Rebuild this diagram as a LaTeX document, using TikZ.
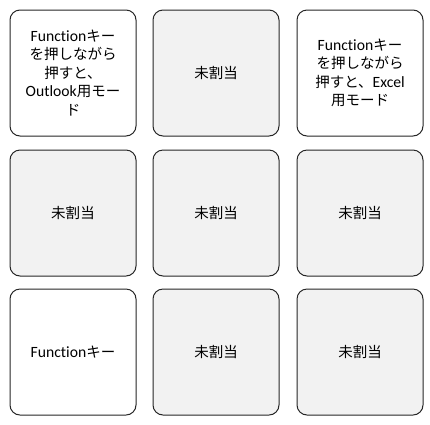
\documentclass[tikz,border=0pt]{standalone}
\usepackage{fontspec}
\setmainfont{Noto Sans CJK JP}[Scale=1.0]
\newfontfamily\lt{Carlito}[Scale=1.08,Ligatures={NoCommon,NoRequired,NoContextual}]
\definecolor{cellgray}{HTML}{F2F2F2}
\definecolor{edge}{HTML}{262626}
\tikzset{
  cell/.style={draw=edge, line width=1pt, rounded corners=10pt, minimum width=126pt, minimum height=126pt, align=center, font=\fontsize{14.5}{18.5}\selectfont, inner sep=2pt, text width=122pt},
  free/.style={cell, fill=cellgray},
  used/.style={cell, fill=white}
}
\begin{document}
\begin{tikzpicture}[x=1pt,y=-1pt]
\useasboundingbox (0,0) rectangle (430,424);
\node[used] (a1) at (73,73) {{\lt Function}キー\\を押しながら\\押すと、\\{\lt Outlook}用モー\\ド};
\node[free] (a2) at (216,73) {未割当};
\node[used] (a3) at (360,73) {{\lt Function}キー\\を押しながら\\押すと、{\lt Excel}\\用モード};
\node[free] (b1) at (73,213) {未割当};
\node[free] (b2) at (216,213) {未割当};
\node[free] (b3) at (360,213) {未割当};
\node[used] (c1) at (73,352) {{\lt Function}キー};
\node[free] (c2) at (216,352) {未割当};
\node[free] (c3) at (360,352) {未割当};
\end{tikzpicture}
\end{document}
